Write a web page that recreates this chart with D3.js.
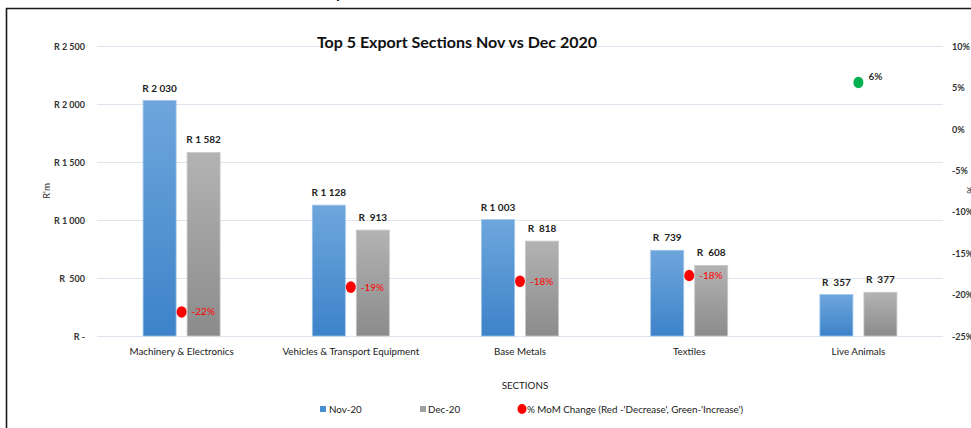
<!DOCTYPE html>
<html><head><meta charset="utf-8">
<script src="https://cdn.jsdelivr.net/npm/d3@7/dist/d3.min.js"></script>
<style>
html,body{margin:0;padding:0;background:#fff;}
svg{display:block;font-family:Lato,"Open Sans",sans-serif;}
text{white-space:pre;}
</style></head><body>
<svg id="c" width="971" height="428"></svg>
<script>
const categories = ["Machinery & Electronics","Vehicles & Transport Equipment","Base Metals","Textiles","Live Animals"];
const series = ["Nov-20","Dec-20"];
const nov20 = [2030,1128,1003,739,357];
const dec20 = [1582,913,818,608,377];
const momChange = [-22.1,-19.1,-18.4,-17.7,5.6];
const momLabels = ["-22%","-19%","-18%","-18%","6%"];
const leftTicks = [0,500,1000,1500,2000,2500];
const leftTickLabels = ["R -","R  500","R 1 000","R 1 500","R 2 000","R 2 500"];
const rightTicks = [-25,-20,-15,-10,-5,0,5,10];
const rightTickLabels = ["-25%","-20%","-15%","-10%","-5%","0%","5%","10%"];

const svg = d3.select("#c");
const L=97, R=943, T=46, B=336;

const x0 = d3.scaleBand().domain(categories).range([L,R]).paddingInner(0).paddingOuter(0);
const x1 = d3.scaleBand().domain(series).range([-38.5,38.5]).paddingInner(0.25);
const y = d3.scaleLinear().domain([0,2500]).range([B,T]);
const y2 = d3.scaleLinear().domain([-25,10]).range([B,T]);

const defs = svg.append("defs");
function grad(id,top,bot){
  const g=defs.append("linearGradient").attr("id",id).attr("x1",0).attr("y1",0).attr("x2",0).attr("y2",1);
  g.append("stop").attr("offset","0%").attr("stop-color",top);
  g.append("stop").attr("offset","100%").attr("stop-color",bot);
}
grad("gBlue","#6ea6dc","#3d83c9");
grad("gGray","#b3b3b3","#8b8b8b");

// frame
svg.append("line").attr("x1",6).attr("x2",971).attr("y1",8.5).attr("y2",8.5).attr("stroke","#1a1a1a").attr("stroke-width",1.6);
svg.append("line").attr("x1",6.5).attr("x2",6.5).attr("y1",8).attr("y2",428).attr("stroke","#1a1a1a").attr("stroke-width",1.6);
svg.append("text").attr("x",336).attr("y",-2).attr("font-size",16).attr("font-weight","bold").attr("fill","#222").text("p");

// gridlines
svg.append("g").selectAll("line").data(leftTicks).join("line")
  .attr("x1",L).attr("x2",R).attr("y1",d=>y(d)+0.5).attr("y2",d=>y(d)+0.5)
  .attr("stroke","#dfe5ee").attr("stroke-width",1.2);

// left axis
const yAxis = d3.axisLeft(y).tickValues(leftTicks).tickSize(0).tickPadding(0)
  .tickFormat((d,i)=>leftTickLabels[i]);
const ga = svg.append("g").attr("transform",`translate(85,0)`).call(yAxis);
ga.select(".domain").remove();
ga.selectAll("text").attr("font-size",9).attr("font-weight","bold").attr("fill","#333").attr("font-family","Lato,sans-serif").attr("dy","0.35em");

// right axis
const y2Axis = d3.axisRight(y2).tickValues(rightTicks).tickSize(0).tickPadding(0)
  .tickFormat((d,i)=>rightTickLabels[rightTicks.indexOf(d)]);
const gr = svg.append("g").attr("transform",`translate(952,0)`).call(y2Axis);
gr.select(".domain").remove();
gr.selectAll("text").attr("font-size",9).attr("font-weight","bold").attr("fill","#333").attr("font-family","Lato,sans-serif").attr("dy","0.35em");

// bottom axis labels
const xAxis = d3.axisBottom(x0).tickSize(0).tickPadding(0);
const gx = svg.append("g").attr("transform",`translate(0,${B+12})`).call(xAxis);
gx.select(".domain").remove();
gx.selectAll("text").attr("font-size",9.8).attr("fill","#1a1a1a").attr("font-family","Lato,sans-serif").attr("dy","0.7em");

// axis titles
svg.append("text").attr("transform","translate(50,191) rotate(-90)").attr("text-anchor","middle")
  .attr("font-size",9.8).attr("fill","#333").text("R'm");
svg.append("text").attr("transform","translate(974,190) rotate(-90)").attr("text-anchor","middle")
  .attr("font-size",9.5).attr("fill","#333").text("%");
svg.append("text").attr("x",525).attr("y",389).attr("text-anchor","middle")
  .attr("font-size",9.8).attr("fill","#1a1a1a").text("SECTIONS");

// title
svg.append("text").attr("x",457).attr("y",48).attr("text-anchor","middle")
  .attr("font-size",16).attr("font-weight","bold").attr("fill","#111").attr("font-family","Lato,sans-serif")
  .text("Top 5 Export Sections Nov vs Dec 2020");

// bars
const rows = categories.map((c,i)=>({cat:c, vals:[{s:series[0],v:nov20[i]},{s:series[1],v:dec20[i]}]}));
const fmt = v => { const s=d3.format(",")(v).replace(/,/g," "); return v<1000 ? "R  "+s : "R "+s; };
const cx = c => x0(c)+x0.bandwidth()/2;
const grp = svg.append("g").selectAll("g").data(rows).join("g")
  .attr("transform",d=>`translate(${cx(d.cat)},0)`);
grp.selectAll("rect").data(d=>d.vals).join("rect")
  .attr("x",d=>x1(d.s)).attr("width",x1.bandwidth())
  .attr("y",d=>y(d.v)).attr("height",d=>y(0)-y(d.v))
  .attr("fill",d=>d.s===series[0]?"url(#gBlue)":"url(#gGray)")
  .attr("stroke",d=>d.s===series[0]?"#9cc3ea":"#c8c8c8").attr("stroke-width",0.8);
grp.selectAll("text").data(d=>d.vals).join("text")
  .attr("x",d=>x1(d.s)+x1.bandwidth()/2).attr("y",d=>y(d.v)-9)
  .attr("text-anchor","middle").attr("font-size",10).attr("font-weight","bold").attr("fill","#222")
  .text(d=>fmt(d.v));

// MoM dots
const dots = svg.append("g").selectAll("g").data(categories).join("g");
dots.append("ellipse").attr("cx",c=>cx(c)).attr("cy",(c,i)=>y2(momChange[i]))
  .attr("rx",5).attr("ry",5.8).attr("fill",(c,i)=>momChange[i]<0?"#ff0000":"#00b050");
dots.append("text").attr("x",c=>cx(c)+10).attr("y",(c,i)=>y2(momChange[i])+ (momChange[i]<0?3.5:-2))
  .attr("font-size",10).attr("font-weight",(c,i)=>momChange[i]<0?"normal":"bold")
  .attr("fill",(c,i)=>momChange[i]<0?"#ff0000":"#333").text((c,i)=>momLabels[i]);

// legend
const lg = svg.append("g").attr("font-size",9.8).attr("fill","#1a1a1a");
lg.append("rect").attr("x",320).attr("y",406).attr("width",6).attr("height",6).attr("fill","#4a8fd4");
lg.append("text").attr("x",329).attr("y",412.5).text("Nov-20");
lg.append("rect").attr("x",420).attr("y",406).attr("width",6).attr("height",6).attr("fill","#a0a0a0");
lg.append("text").attr("x",428).attr("y",412.5).text("Dec-20");
lg.append("ellipse").attr("cx",522).attr("cy",409).attr("rx",4.5).attr("ry",5).attr("fill","#ff0000");
lg.append("text").attr("x",527).attr("y",412.5).text("% MoM Change (Red -'Decrease', Green-'Increase')");
</script>
</body></html>
